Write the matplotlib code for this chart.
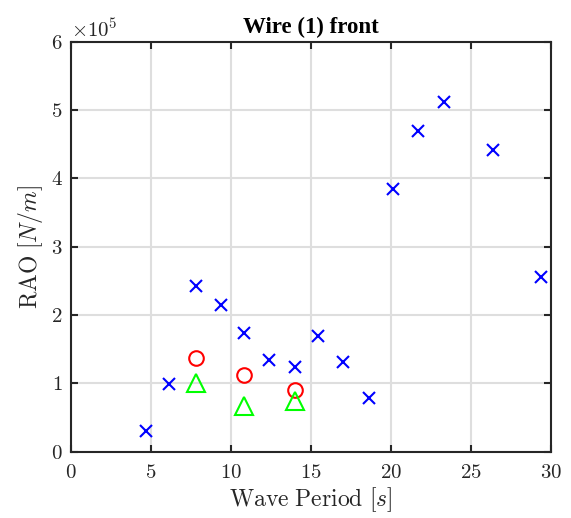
import numpy as np
import matplotlib
matplotlib.use('Agg')
import matplotlib.pyplot as plt
from matplotlib.ticker import ScalarFormatter

# wave period [s] and RAO [N/m]
period_x = [4.7, 6.15, 7.8, 9.35, 10.8, 12.4, 14.0, 15.45, 17.0, 18.6, 20.1, 21.7, 23.3, 26.35, 29.4]
rao_x = [0.31e5, 0.99e5, 2.42e5, 2.15e5, 1.74e5, 1.34e5, 1.24e5, 1.70e5, 1.31e5, 0.79e5,
         3.85e5, 4.69e5, 5.12e5, 4.41e5, 2.55e5]

period_o = [7.8, 10.8, 14.0]
rao_o = [1.37e5, 1.12e5, 0.90e5]

period_tri = [7.8, 10.8, 14.0]
rao_tri = [1.01e5, 0.67e5, 0.74e5]

plt.rcParams['font.family'] = 'serif'
plt.rcParams['font.serif'] = ['cmr10']
plt.rcParams['mathtext.fontset'] = 'cm'
plt.rcParams['axes.formatter.use_mathtext'] = True

dark = (0.15, 0.15, 0.15)

fig = plt.figure(figsize=(5.71, 5.18), dpi=100)
ax = fig.add_axes([0.1243, 0.128, 0.8407, 0.7915])

ax.plot(period_x, rao_x, 'x', color=(0, 0, 1), ms=9, mew=1.5, linestyle='none')
ax.plot(period_o, rao_o, 'o', color=(1, 0, 0), mfc='none', ms=10.5, mew=1.5, linestyle='none')
ax.plot(period_tri, rao_tri, '^', color=(0, 1, 0), mfc='none', ms=12.5, mew=1.5, linestyle='none')

ax.set_xlim(0, 30)
ax.set_ylim(0, 6e5)
ax.set_xticks(np.arange(0, 31, 5))
ax.set_yticks(np.arange(0, 6.1e5, 1e5))
fmt = ScalarFormatter(useMathText=True)
fmt.set_powerlimits((0, 0))
ax.yaxis.set_major_formatter(fmt)

ax.grid(True, color=(0.87, 0.87, 0.87), linewidth=1.5)
ax.set_axisbelow(True)
for s in ax.spines.values():
    s.set_color(dark)
    s.set_linewidth(1.5)
ax.tick_params(direction='in', top=True, right=True, length=5, width=1.5,
               colors=dark, labelsize=15)
ax.tick_params(axis='x', pad=9)
ax.tick_params(axis='y', pad=6)
ax.yaxis.get_offset_text().set_fontsize(15)
ax.yaxis.get_offset_text().set_color(dark)

ax.set_xlabel(r'$\mathrm{Wave\ Period}\ [s]$', fontsize=17, color=dark, labelpad=2)
ax.set_ylabel(r'$\mathrm{RAO}\ [N/m]$', fontsize=17, color=dark)
ax.set_title('Wire (1) front', fontsize=16.5, fontweight='bold',
             family='Liberation Serif', color='black', pad=6)

fig.savefig('out.png', dpi=100)
